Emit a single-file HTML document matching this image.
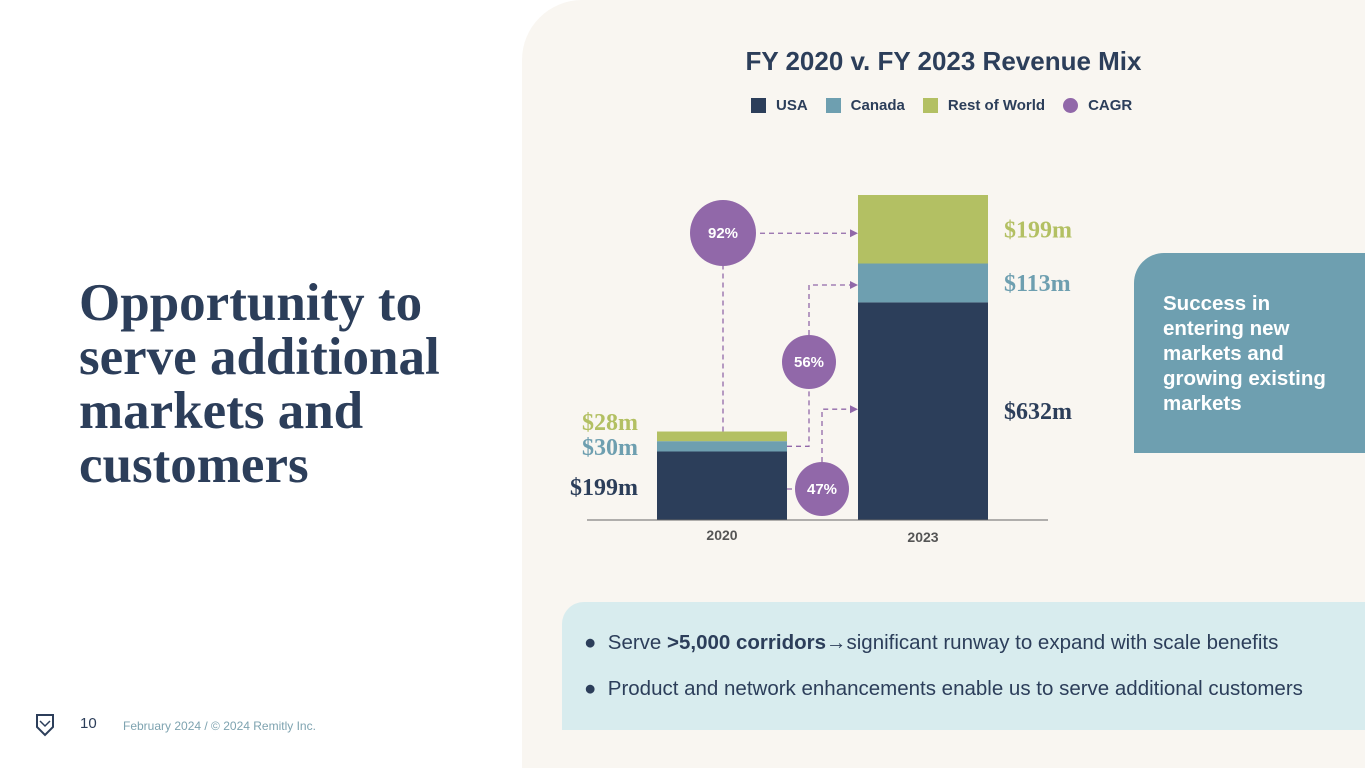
<!DOCTYPE html>
<html><head><meta charset="utf-8"><style>
body{margin:0;width:1365px;height:768px;overflow:hidden;background:#fff;font-family:"Liberation Sans",sans-serif;position:relative}
.panel{position:absolute;left:522px;top:0;width:843px;height:768px;background:#f9f6f1;border-top-left-radius:60px}
h1{position:absolute;left:79px;top:276px;margin:0;font-family:"Liberation Serif",serif;font-weight:bold;font-size:53px;line-height:54px;color:#2c3e5a;width:400px}
.title{position:absolute;left:522px;width:843px;top:46px;text-align:center;font-size:26px;font-weight:bold;color:#2c3e5a}
.legend{position:absolute;left:751px;top:97px;font-size:15px;font-weight:bold;color:#2c3e5a;display:flex;gap:0}
.legend span{display:flex;align-items:center;margin-right:18px}
.legend i{display:inline-block;width:15px;height:15px;margin-right:10px}
.callout{position:absolute;left:1134px;top:253px;width:231px;height:200px;background:#6e9fb0;border-top-left-radius:30px;color:#fff;font-weight:bold;font-size:20.5px;line-height:25px;box-sizing:border-box;padding:38px 20px 0 29px}
.bottom{position:absolute;left:562px;top:602px;width:803px;height:128px;background:#d8ecee;border-top-left-radius:22px;color:#2c3e5a;font-size:20.5px}
.bottom div{position:absolute;left:22px;white-space:nowrap}
.foot{position:absolute;top:716px;font-size:12px;color:#7ea3b0}
</style></head><body>
<div class="panel"></div>
<h1>Opportunity to serve additional markets and customers</h1>
<div class="title">FY 2020 v. FY 2023 Revenue Mix</div>
<div class="legend">
<span><i style="background:#2c3e5a"></i>USA</span>
<span><i style="background:#6e9fb0"></i>Canada</span>
<span><i style="background:#b3c063"></i>Rest of World</span>
<span><i style="background:#9168a9;border-radius:50%"></i>CAGR</span>
</div>
<svg id="chart" width="1365" height="768" style="position:absolute;left:0;top:0"></svg>
<div class="callout">Success in entering new markets and growing existing markets</div>
<div class="bottom">
<div style="top:29px">●&nbsp;&nbsp;Serve <b>&gt;5,000 corridors</b>→significant runway to expand with scale benefits</div>
<div style="top:75px">●&nbsp;&nbsp;Product and network enhancements enable us to serve additional customers</div>
</div>
<svg style="position:absolute;left:35px;top:713px" width="20" height="24"><path d="M2 2h16v12l-8 8-8-8z" fill="none" stroke="#2c3e5a" stroke-width="2"/><path d="M5 8l5 5 5-5" fill="none" stroke="#2c3e5a" stroke-width="1.5"/></svg>
<div class="foot" style="left:80px;font-size:15px;top:715px;color:#2c3e5a">10</div>
<div class="foot" style="left:123px;top:719px">February 2024 / © 2024 Remitly Inc.</div>
<script>
const years=['2020','2023'];
const usa=[199,632];
const canada=[30,113];
const row=[28,199];
const cagr=['47%','56%','92%'];
const colors=['#2c3e5a','#6e9fb0','#b3c063'];
const svg=document.getElementById('chart');
const NS='http://www.w3.org/2000/svg';
const base=520,scale=325/944;
const y=v=>base-v*scale;
const bx=[657,858],bw=130;
function el(t,a,txt){const e=document.createElementNS(NS,t);for(const k in a)e.setAttribute(k,a[k]);if(txt)e.textContent=txt;svg.appendChild(e);return e;}
const series=[usa,canada,row];
years.forEach((yr,i)=>{
 let acc=0;
 series.forEach((s,j)=>{
  const r=el('rect',{x:bx[i],y:y(acc+s[i]),width:bw,height:s[i]*scale,fill:colors[j]});
  
  
  const mid=y(acc+s[i]/2);acc+=s[i];
  let lx,ly,anchor;
  if(i==0){lx=638;anchor='end';ly=[495,455,430][j];}else{lx=1004;anchor='start';ly=mid+8;}
  const t=el('text',{x:lx,y:ly,'text-anchor':anchor,'font-family':'Liberation Serif,serif','font-weight':'bold','font-size':24,fill:colors[j]},'$'+s[i]+'m');
  
  
 });
 const xl=el('text',{x:bx[i]+bw/2,y:540+i*2,'text-anchor':'middle','font-size':14,'font-weight':'bold',fill:'#555'},yr);
 
 
});
const ax=el('line',{x1:587,x2:1048,y1:base,y2:base,stroke:'#666','stroke-width':1});


const dash={stroke:'#9168a9','stroke-width':1.3,'stroke-dasharray':'5,4',fill:'none'};
function arrow(d,tipx,tipy){const p=el('path',Object.assign({d:d},dash));
 const a=el('path',{d:`M${tipx-8} ${tipy-4}L${tipx} ${tipy}L${tipx-8} ${tipy+4}z`,fill:'#9168a9'});}
const ty0=y(usa[1]+canada[1]+row[1]/2)+4, ty1=y(usa[1]+canada[1]/2)+2, ty2=y(usa[1]/2)-2;
arrow(`M723 ${y(usa[0]+canada[0]+row[0])}V266M760 ${ty0}H852`,858,ty0);
arrow(`M787 ${y(usa[0]+canada[0]/2)}H809V389M809 335V${ty1}H852`,858,ty1);
arrow(`M787 489H795M822 462V${ty2}H852`,858,ty2);
[[822,489,27,0],[809,362,27,1],[723,233,33,2]].forEach(c=>{
 const ci=el('circle',{cx:c[0],cy:c[1],r:c[2],fill:'#9168a9'});
 
 
 const t=el('text',{x:c[0],y:c[1]+5,'text-anchor':'middle','font-size':15,'font-weight':'bold',fill:'#fff'},cagr[c[3]]);
 
 
});
</script>
</body></html>
